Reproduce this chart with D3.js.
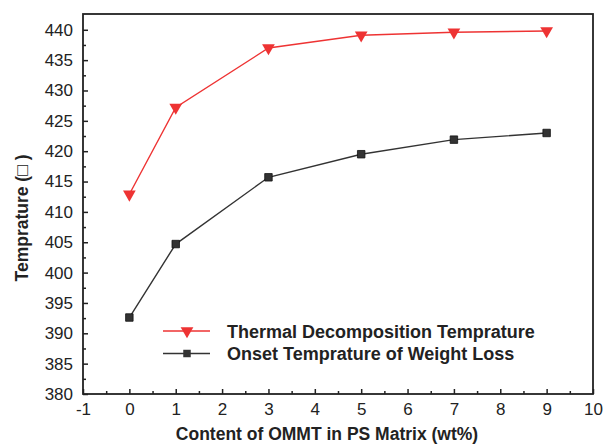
<!DOCTYPE html>
<html lang="en">
<head>
<meta charset="UTF-8">
<script src="https://d3js.org/d3.v7.min.js"></script>
<title>Temprature vs OMMT</title>
<style>
  body { margin: 0; background: #fff; }
  text { font-family: "Liberation Sans", Arial, sans-serif; fill: #222; }
</style>
</head>
<body>
<div id="canvas"></div>
<script>
// data
const contents = [0, 1, 3, 5, 7, 9]
const thermalDecomp = [412.9, 427.2, 437.0, 439.1, 439.6, 439.8]
const onsetWeightLoss = [392.6, 404.7, 415.7, 419.5, 421.9, 423.0]
const xTicks = [-1, 0, 1, 2, 3, 4, 5, 6, 7, 8, 9, 10]
const yTicks = [380, 385, 390, 395, 400, 405, 410, 415, 420, 425, 430, 435, 440]
const seriesNames = ["Thermal Decomposition Temprature", "Onset Temprature of Weight Loss"]

const W = 616, H = 446
const margin = {top: 14, right: 23, bottom: 52, left: 83}
const gW = W - margin.left - margin.right
const gH = H - margin.top - margin.bottom

const svg = d3.select("#canvas").append("svg").attr("width", W).attr("height", H)
const g = svg.append("g").attr("transform", `translate(${margin.left},${margin.top})`)

const x = d3.scaleLinear().domain([-1, 10]).range([0, gW])
const y = d3.scaleLinear().domain([380, 442.6]).range([gH, 0])

// minor ticks
const xMinor = d3.range(-0.5, 10, 1)
const yMinor = d3.range(382.5, 442, 5)

const gx = g.append("g").attr("transform", `translate(0,${gH})`)
gx.call(d3.axisBottom(x).tickValues(xTicks).tickFormat(d => String(d)).tickSizeInner(-5).tickSizeOuter(0).tickPadding(9))
gx.append("g").call(d3.axisBottom(x).tickValues(xMinor).tickSize(-3).tickFormat(""))
const gy = g.append("g")
gy.call(d3.axisLeft(y).tickValues(yTicks).tickFormat(d => String(d)).tickSizeInner(-5).tickSizeOuter(0).tickPadding(10))
gy.append("g").call(d3.axisLeft(y).tickValues(yMinor).tickSize(-3).tickFormat(""))

g.selectAll(".domain").remove()
g.selectAll(".tick line").attr("stroke", "#222").attr("stroke-width", 1.5)
g.selectAll(".tick text").style("font-size", "17px").attr("fill", "#222")

// frame
g.append("rect").attr("width", gW).attr("height", gH)
  .attr("fill", "none").attr("stroke", "#222").attr("stroke-width", 1.8)

const redC = "#ee3333", blackC = "#333333"
const line = d3.line().x(d => x(d[0])).y(d => y(d[1]))
const redPts = contents.map((c, i) => [c, thermalDecomp[i]])
const blackPts = contents.map((c, i) => [c, onsetWeightLoss[i]])

g.append("path").datum(redPts).attr("fill", "none").attr("stroke", redC).attr("stroke-width", 1.4).attr("d", line)
g.append("path").datum(blackPts).attr("fill", "none").attr("stroke", blackC).attr("stroke-width", 1.4).attr("d", line)

const tri = d3.symbol().type(d3.symbolTriangle).size(70)
const sq = d3.symbol().type(d3.symbolSquare).size(56)

g.selectAll(".red").data(redPts).enter().append("path")
  .attr("d", tri).attr("fill", redC)
  .attr("transform", d => `translate(${x(d[0])},${y(d[1])}) rotate(180)`)
g.selectAll(".blk").data(blackPts).enter().append("path")
  .attr("d", sq).attr("fill", blackC).attr("stroke", "#111").attr("stroke-width", 0.8)
  .attr("transform", d => `translate(${x(d[0])},${y(d[1])})`)

// legend
const leg = svg.append("g").attr("transform", "translate(163,331)")
const legColors = [redC, blackC]
seriesNames.forEach((name, i) => {
  const row = leg.append("g").attr("transform", `translate(0,${i * 22.5})`)
  row.append("line").attr("x1", 0).attr("x2", 47).attr("stroke", legColors[i]).attr("stroke-width", 1.4)
  row.append("path").attr("d", i === 0 ? tri : sq).attr("fill", legColors[i])
    .attr("transform", `translate(24,0)${i === 0 ? " rotate(180)" : ""}`)
  row.append("text").attr("x", 64).attr("y", 6.5).style("font-size", "18px").style("font-weight", "bold")
    .text(name)
})

// axis titles
svg.append("text").attr("x", 327).attr("y", 440).attr("text-anchor", "middle")
  .style("font-size", "17.5px").style("font-weight", "bold")
  .text("Content of OMMT in PS Matrix (wt%)")
svg.append("text").attr("transform", "translate(28,218) rotate(-90)").attr("text-anchor", "middle")
  .style("font-size", "17.5px").style("font-weight", "bold")
  .text("Temprature (\u25a1 )")
</script>
</body>
</html>
